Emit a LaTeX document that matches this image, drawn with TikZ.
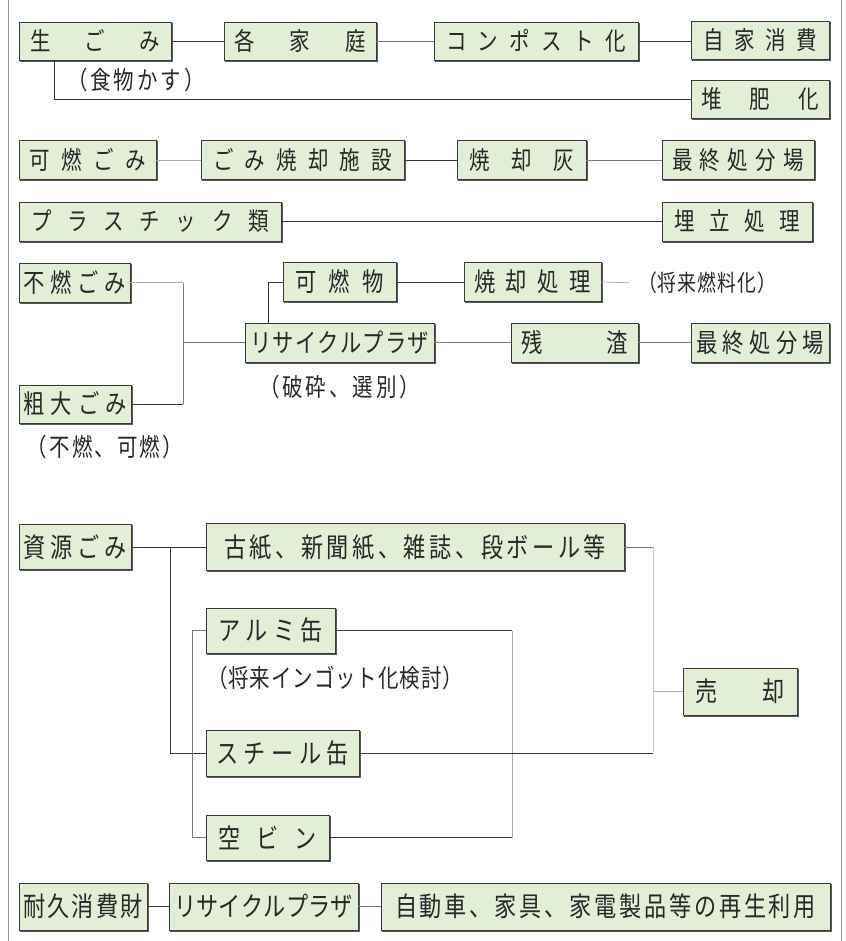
\documentclass[tikz,border=0pt]{standalone}
\usepackage{fontspec}
\newfontfamily\jp[FakeStretch=0.82]{Noto Sans CJK JP}
\usetikzlibrary{shadows}
\newcommand\fsz[1]{\fontsize{#1}{#1}\selectfont}
\def\spr#1{\sprA#1\sprE}
\def\sprA#1#2\sprE{#1\ifx\relax#2\relax\else\hfill\sprA#2\sprE\fi}
\definecolor{boxfill}{RGB}{226,238,214}
\definecolor{bordc}{RGB}{58,58,58}
\definecolor{shadc}{RGB}{90,90,90}
\definecolor{txtc}{RGB}{40,40,40}
\definecolor{darkl}{RGB}{55,55,55}
\definecolor{midl}{RGB}{120,120,120}
\definecolor{lightl}{RGB}{170,170,170}
\definecolor{framec}{RGB}{150,150,150}
\tikzset{
  box/.style={draw=bordc, fill=boxfill, line width=0.7pt, inner ysep=0pt,
    align=center, text=txtc, font=\jp\fsz{27},
    copy shadow={shadow xshift=1.2pt, shadow yshift=-1.2pt, draw=shadc, fill=shadc}},
  note/.style={inner sep=0pt, align=center, text=txtc, font=\jp\fsz{25}},
  dk/.style={draw=darkl, line width=0.9pt},
  md/.style={draw=midl, line width=0.8pt},
  lt/.style={draw=lightl, line width=0.7pt}
}
\begin{document}
\begin{tikzpicture}[x=1pt, y=-1pt]
\useasboundingbox (0,0) rectangle (845,941);
\fill[white] (0,0) rectangle (845,941);
\draw[framec, line width=0.8pt] (8,0) -- (8,941);
\draw[framec, line width=0.8pt] (841,0) -- (841,941);

% Row 1
\node[box, font=\jp\fsz{25}, text width=130pt, inner xsep=11pt, minimum height=38pt] (a1) at (95,41) {\spr{生ごみ}};
\node[box, font=\jp\fsz{25}, text width=132pt, inner xsep=10pt, minimum height=38pt] (a2) at (300,41) {\spr{各家庭}};
\node[box, font=\jp\fsz{25}, text width=180pt, inner xsep=12pt, minimum height=38pt] (a3) at (536,41) {\spr{コンポスト化}};
\node[box, font=\jp\fsz{25}, text width=114pt, inner xsep=12pt, minimum height=38pt] (a4) at (760,40) {\spr{自家消費}};
\node[box, font=\jp\fsz{25}, text width=118pt, inner xsep=10pt, minimum height=38pt] (a5) at (760,99) {\spr{堆肥化}};
\node[note, text width=138pt] (n0) at (136,80) {\spr{（食物かす）}};

% Row 2
\node[box, font=\jp\fsz{25}, text width=117pt, inner xsep=10pt, minimum height=39pt] (b1) at (87.5,160) {\spr{可燃ごみ}};
\node[box, font=\jp\fsz{25}, text width=179pt, inner xsep=12pt, minimum height=39pt] (b2) at (302.5,160) {\spr{ごみ焼却施設}};
\node[box, font=\jp\fsz{25}, text width=105pt, inner xsep=12pt, minimum height=39pt] (b3) at (521.5,160) {\spr{焼却灰}};
\node[box, font=\jp\fsz{25}, text width=132pt, inner xsep=10pt, minimum height=39pt] (b4) at (738,160) {\spr{最終処分場}};

% Row 3
\node[box, font=\jp\fsz{25}, text width=238pt, inner xsep=12pt, minimum height=39pt] (c1) at (150,221.5) {\spr{プラスチック類}};
\node[box, font=\jp\fsz{25}, text width=126pt, inner xsep=12pt, minimum height=39pt] (c2) at (737,221.5) {\spr{埋立処理}};

% Row 4
\node[box, font=\jp\fsz{26}, text width=103pt, inner xsep=4pt, minimum height=39pt] (d1) at (74.5,282.5) {\spr{不燃ごみ}};
\node[box, font=\jp\fsz{26}, text width=89pt, inner xsep=12pt, minimum height=39pt] (d2) at (339.5,282) {\spr{可燃物}};
\node[box, font=\jp\fsz{26}, text width=117pt, inner xsep=10pt, minimum height=39pt] (d3) at (532.5,282) {\spr{焼却処理}};
\node[note, font=\jp\fsz{23}, text width=138pt] (n1) at (707,283) {\spr{（将来燃料化）}};
\node[box, font=\jp\fsz{26}, text width=179pt, inner xsep=5pt, minimum height=39pt] (d4) at (339.5,342.5) {\spr{リサイクルプラザ}};
\node[box, font=\jp\fsz{26}, text width=107pt, inner xsep=10pt, minimum height=39pt] (d5) at (574.5,342.5) {\spr{残渣}};
\node[box, font=\jp\fsz{26}, text width=128pt, inner xsep=5pt, minimum height=39pt] (d6) at (760,342.5) {\spr{最終処分場}};
\node[note, text width=161pt] (n2) at (339.5,387) {\spr{（破砕、選別）}};
\node[box, font=\jp\fsz{26}, text width=104pt, inner xsep=4pt, minimum height=38pt] (d7) at (75,404) {\spr{粗大ごみ}};
\node[note, text width=156pt] (n3) at (105,447) {\spr{（不燃、可燃）}};

% Resources
\node[box, text width=104pt, inner xsep=4pt, minimum height=45pt] (e1) at (75,547) {\spr{資源ごみ}};
\node[box, text width=382pt, inner xsep=18pt, minimum height=47pt] (e2) at (415,547) {\spr{古紙、新聞紙、雑誌、段ボール等}};
\node[box, text width=105pt, inner xsep=12pt, minimum height=45pt] (e3) at (270.5,630.5) {\spr{アルミ缶}};
\node[note, text width=256pt] (n4) at (335,678) {\spr{（将来インゴット化検討）}};
\node[box, text width=90pt, inner xsep=12pt, minimum height=47pt] (e4) at (740,691.5) {\spr{売却}};
\node[box, text width=133pt, inner xsep=10pt, minimum height=46pt] (e5) at (282.5,753) {\spr{スチール缶}};
\node[box, text width=99pt, inner xsep=12pt, minimum height=45pt] (e6) at (267.5,837.5) {\spr{空ビン}};

% Bottom
\node[box, text width=120pt, inner xsep=4pt, minimum height=47pt] (f1) at (83,906.5) {\spr{耐久消費財}};
\node[box, text width=179pt, inner xsep=5pt, minimum height=47pt] (f2) at (263.5,906.5) {\spr{リサイクルプラザ}};
\node[box, text width=421pt, inner xsep=14pt, minimum height=47pt] (f3) at (605.5,906.5) {\spr{自動車、家具、家電製品等の再生利用}};

% junction coordinates
\coordinate (j1) at (54,0);
\coordinate (j2) at (183,0);
\coordinate (j3) at (268,0);
\coordinate (j4) at (170,0);
\coordinate (j5) at (192,0);
\coordinate (j6) at (512,0);
\coordinate (j7) at (653,0);

% Row 1 connectors
\draw[dk] (a1.east) -- (a2.west);
\draw[md] (a2.east) -- (a3.west);
\draw[dk] (a3.east) -- (a4.west |- a3.east);
\draw[dk] (a1.south -| j1) |- (a5.west);

% Row 2
\draw[lt] (b1.east) -- (b2.west);
\draw[dk] (b2.east) -- (b3.west);
\draw[md] (b3.east) -- (b4.west);

% Row 3
\draw[dk] (c1.east) -- (c2.west);

% Row 4
\draw[lt] (d1.east) -- (d1.east -| j2);
\draw[md] (d1.east -| j2) -- (d7.east -| j2);
\draw[dk] (d7.east) -- (d7.east -| j2);
\draw[md] (d4.west -| j2) -- (d4.west);
\draw[dk] (d2.west) -| (d4.north -| j3);
\draw[dk] (d2.east) -- (d3.west);
\draw[lt, shorten >=9pt] (d3.east) -- (n1.west);
\draw[md] (d4.east) -- (d5.west);
\draw[md] (d5.east) -- (d6.west);

% Resources
\draw[dk] (e1.east) -- (e2.west);
\draw[dk] (e1.east -| j4) |- (e5.west);
\draw[md] (e3.west) -- (e3.west -| j5) |- (e6.west);
\draw[dk] (e3.east) -- (e3.east -| j6);
\draw[lt] (e3.east -| j6) -- (e6.east -| j6);
\draw[dk] (e6.east) -- (e6.east -| j6);
\draw[md] (e2.east) -- (e2.east -| j7);
\draw[lightl!70, line width=0.7pt] (e2.east -| j7) -- (e5.east -| j7);
\draw[dk] (e5.east) -- (e5.east -| j7);
\draw[lt] (e4.west -| j7) -- (e4.west);

% Bottom
\draw[dk] (f1.east) -- (f2.west);
\draw[md] (f2.east) -- (f3.west);
\end{tikzpicture}
\end{document}
